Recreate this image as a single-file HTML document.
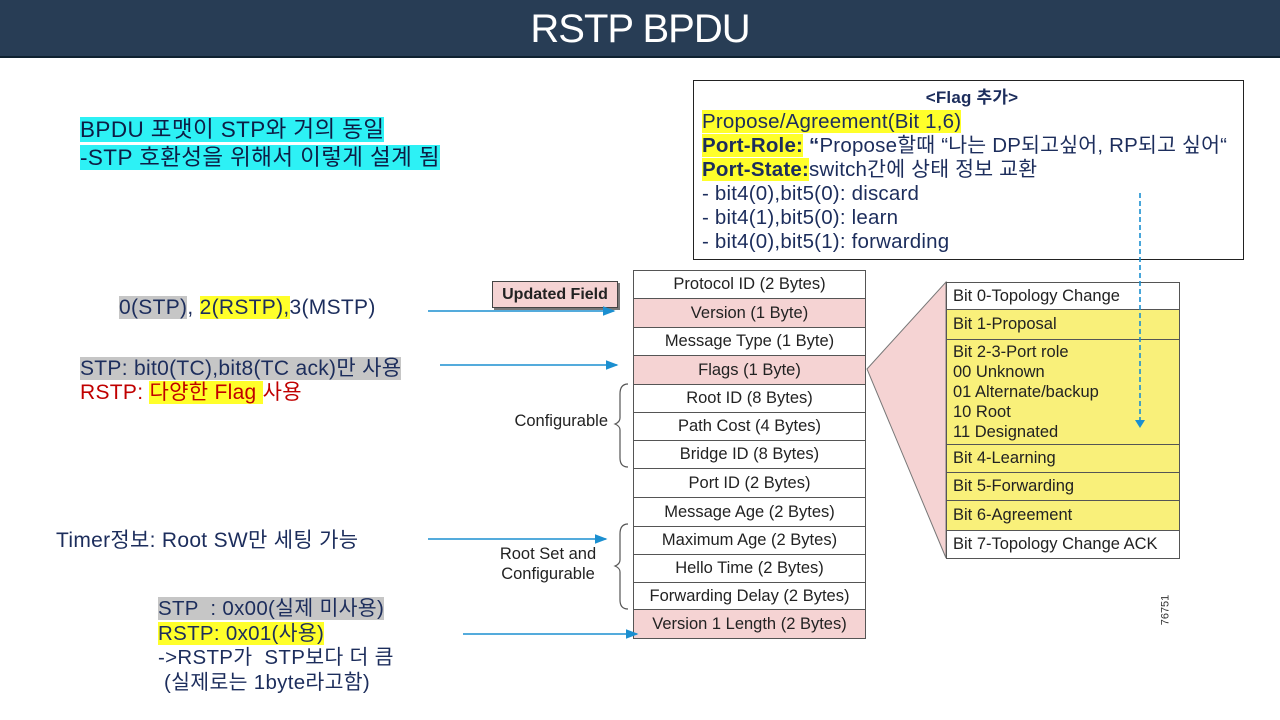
<!DOCTYPE html>
<html><head><meta charset="utf-8"><style>
body{margin:0;width:1280px;height:720px;position:relative;background:#fff;overflow:hidden;font-family:"Liberation Sans","Noto Sans CJK KR",sans-serif}
.a{position:absolute;white-space:nowrap}
.t{color:#1c2d5c;font-size:21px;line-height:24px;letter-spacing:0.3px}
.r{position:absolute;left:633px;width:233px;border:1px solid #555;box-sizing:border-box;text-align:center;font-size:16.5px;color:#222;display:flex;align-items:center;justify-content:center}
.p{background:#f5d3d3}
.b{position:absolute;left:946px;width:234px;border:1px solid #555;box-sizing:border-box;font-size:16.5px;color:#222;padding-left:6px;background:#f9f07a;line-height:20px}
.cy{background:#2df1f5}.gy{background:#c6c6c6}.yl{background:#ffff2a}
</style></head><body>
<div class="a" style="left:0;top:0;width:1280px;height:58px;background:#283d55;border-bottom:2px solid #0f2130;box-sizing:border-box"></div>
<div class="a" style="left:0;top:4px;width:1280px;text-align:center;color:#fff;font-size:40px;line-height:50px;letter-spacing:-1px">RSTP BPDU</div>

<div class="a t" style="left:80px;top:116px;font-size:22.5px;line-height:28px;color:#0d1d45;letter-spacing:0.4px"><span class="cy">BPDU 포맷이 STP와 거의 동일</span><br><span class="cy">-STP 호환성을 위해서 이렇게 설계 됨</span></div>

<div class="a t" style="left:119px;top:296px"><span class="gy">0(STP)</span>, <span class="yl">2(RSTP),</span>3(MSTP)</div>
<div class="a t" style="left:80px;top:357px"><span class="gy">STP: bit0(TC),bit8(TC ack)만 사용</span><br><span style="color:#c00000">RSTP: <span class="yl">다양한 Flag </span>사용</span></div>
<div class="a t" style="left:56px;top:529px">Timer정보: Root SW만 세팅 가능</div>
<div class="a t" style="left:158px;top:597px;line-height:24.5px;font-size:20.5px"><span class="gy">STP &nbsp;: 0x00(실제 미사용)</span><br><span class="yl">RSTP: 0x01(사용)</span><br>-&gt;RSTP가 &nbsp;STP보다 더 큼<br>&nbsp;(실제로는 1byte라고함)</div>

<div class="a" style="left:693px;top:80px;width:551px;height:180px;border:1.5px solid #222;box-sizing:border-box"></div>
<div class="a t" style="left:702px;top:86px;font-size:20.5px;line-height:24px;letter-spacing:0.2px">
<div style="text-align:center;width:540px;font-weight:bold;font-size:17px">&lt;Flag 추가&gt;</div>
<span class="yl">Propose/Agreement(Bit 1,6)</span><br>
<b><span class="yl">Port-Role:</span> “</b>Propose할때 “나는 DP되고싶어, RP되고 싶어“<br>
<b class="yl">Port-State:</b>switch간에 상태 정보 교환<br>
- bit4(0),bit5(0): discard<br>- bit4(1),bit5(0): learn<br>- bit4(0),bit5(1): forwarding</div>

<div class="a" style="left:492px;top:281px;width:126px;height:27px;background:#f5d3d3;border:1px solid #444;box-shadow:2px 2px 0 #777;box-sizing:border-box;font-weight:bold;font-size:16px;text-align:center;line-height:25px;color:#222">Updated Field</div>

<div class="r" style="top:270px;height:29px">Protocol ID (2 Bytes)</div>
<div class="r p" style="top:298px;height:30px">Version (1 Byte)</div>
<div class="r" style="top:327px;height:29px">Message Type (1 Byte)</div>
<div class="r p" style="top:355px;height:30px">Flags (1 Byte)</div>
<div class="r" style="top:384px;height:29px">Root ID (8 Bytes)</div>
<div class="r" style="top:412px;height:29px">Path Cost (4 Bytes)</div>
<div class="r" style="top:440px;height:29px">Bridge ID (8 Bytes)</div>
<div class="r" style="top:468px;height:30px">Port ID (2 Bytes)</div>
<div class="r" style="top:497px;height:30px">Message Age (2 Bytes)</div>
<div class="r" style="top:526px;height:29px">Maximum Age (2 Bytes)</div>
<div class="r" style="top:554px;height:29px">Hello Time (2 Bytes)</div>
<div class="r" style="top:582px;height:28px">Forwarding Delay (2 Bytes)</div>
<div class="r p" style="top:609px;height:30px">Version 1 Length (2 Bytes)</div>

<div class="a" style="left:500px;top:412px;width:108px;text-align:right;font-size:16.5px;color:#222">Configurable</div>
<div class="a" style="left:490px;top:544px;width:116px;text-align:center;font-size:16.5px;line-height:20px;color:#222">Root Set and<br>Configurable</div>

<svg class="a" style="left:0;top:0" width="1280" height="720">
<defs><marker id="ar" markerWidth="8" markerHeight="8" refX="7" refY="4" orient="auto"><path d="M0,1 L8,4 L0,7z" fill="#1b8fd0"/></marker></defs>
<g stroke="#1b8fd0" stroke-width="1.6" marker-end="url(#ar)">
<line x1="428" y1="311" x2="614" y2="311"/>
<line x1="440" y1="365" x2="617" y2="365"/>
<line x1="428" y1="539" x2="606" y2="539"/>
<line x1="463" y1="634" x2="637" y2="634"/>
</g>
<g fill="none" stroke="#555" stroke-width="1.2">
<path d="M628,384 Q620,384 620,394 L620,418 Q620,422 615,424 Q620,426 620,430 L620,458 Q620,467 628,467"/>
<path d="M628,524 Q620,524 620,534 L620,560 Q620,564 615,566 Q620,568 620,572 L620,600 Q620,609 628,609"/>
</g>
<polygon points="867,369 946,282 946,558" fill="#f5d3d3" stroke="#777" stroke-width="1"/>
</svg>

<div class="b" style="top:282px;height:28px;background:#fff;line-height:26px">Bit 0-Topology Change</div>
<div class="b" style="top:309px;height:31px;line-height:29px">Bit 1-Proposal</div>
<div class="b" style="top:339px;height:106px;padding-top:2px">Bit 2-3-Port role<br>00 Unknown<br>01 Alternate/backup<br>10 Root<br>11 Designated</div>
<div class="b" style="top:444px;height:29px;line-height:27px">Bit 4-Learning</div>
<div class="b" style="top:472px;height:29px;line-height:27px">Bit 5-Forwarding</div>
<div class="b" style="top:500px;height:31px;line-height:29px">Bit 6-Agreement</div>
<div class="b" style="top:530px;height:29px;background:#fff;line-height:27px">Bit 7-Topology Change ACK</div>

<svg class="a" style="left:0;top:0" width="1280" height="720">
<line x1="1140" y1="193" x2="1140" y2="420" stroke="#1b8fd0" stroke-width="1.6" stroke-dasharray="5,3"/>
<path d="M1135,420 L1145,420 L1140,428z" fill="#1b8fd0"/>
</svg>
<div class="a" style="left:1150px;top:604px;font-size:11px;color:#333;transform:rotate(-90deg)">76751</div>
</body></html>
